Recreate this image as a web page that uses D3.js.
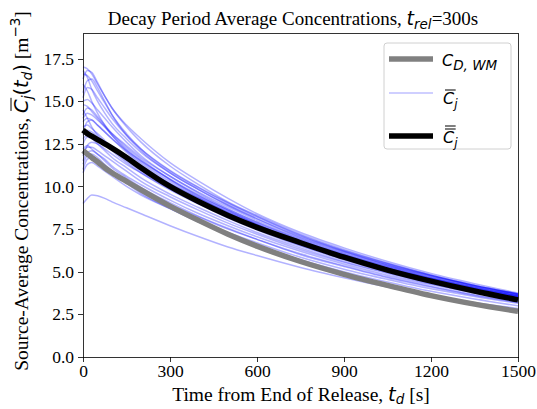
<!DOCTYPE html>
<meta charset="utf-8">
<style>
    body { margin: 0; background: #fff; }
    .axis line { stroke: #000; stroke-width: 0.8px; shape-rendering: crispEdges; }
    .serif { font-family: "Liberation Serif", "Times New Roman", serif; }
    .math { font-family: "DejaVu Sans", sans-serif; font-style: italic; }
</style>
<svg width="537" height="409"></svg>
<script src="https://d3js.org/d3.v7.min.js"></script>
<script>
    // time samples [s]
    var times = [0, 15, 30, 50, 75, 100, 150, 200, 300, 400, 500, 600, 750, 900, 1050, 1200, 1350, 1500];

    // well-mixed decay model C_D,WM
    var wellMixed = [12.1, 11.9, 11.7, 11.45, 11.1, 10.8, 10.3, 9.8, 8.85, 8.0, 7.2, 6.5, 5.6, 4.85, 4.2, 3.6, 3.1, 2.68];

    // mean of all sources
    var sourceMean = [13.3, 13.1, 12.95, 12.75, 12.5, 12.25, 11.7, 11.1, 10.0, 9.1, 8.3, 7.6, 6.7, 5.85, 5.1, 4.45, 3.87, 3.35];

    // individual source averages
    var sources = [
        [17.0, 16.9, 16.6, 16.0, 15.3, 14.6, 13.6, 12.8, 11.4, 10.3, 9.3, 8.4, 7.3, 6.4, 5.6, 4.9, 4.3, 3.75],
        [16.3, 16.8, 16.7, 16.1, 15.3, 14.6, 13.5, 12.6, 11.2, 10.1, 9.1, 8.3, 7.2, 6.3, 5.5, 4.8, 4.2, 3.7],
        [16.6, 16.5, 16.2, 15.6, 14.9, 14.2, 13.1, 12.2, 10.9, 9.9, 9.0, 8.2, 7.1, 6.2, 5.45, 4.8, 4.2, 3.7],
        [15.5, 16.2, 16.3, 15.8, 15.0, 14.2, 13.0, 12.1, 10.8, 9.8, 8.9, 8.1, 7.0, 6.15, 5.4, 4.75, 4.15, 3.65],
        [15.0, 15.1, 14.9, 14.5, 14.0, 13.5, 12.6, 11.8, 10.6, 9.6, 8.7, 7.9, 6.9, 6.05, 5.3, 4.65, 4.1, 3.6],
        [14.8, 14.7, 14.4, 14.0, 13.5, 13.0, 12.2, 11.5, 10.4, 9.4, 8.6, 7.8, 6.8, 6.0, 5.25, 4.6, 4.05, 3.6],
        [14.2, 14.6, 14.5, 14.1, 13.6, 13.1, 12.3, 11.6, 10.4, 9.45, 8.6, 7.8, 6.8, 5.95, 5.2, 4.6, 4.05, 3.55],
        [13.8, 14.0, 13.9, 13.6, 13.2, 12.8, 12.0, 11.3, 10.2, 9.3, 8.45, 7.7, 6.7, 5.9, 5.15, 4.55, 4.0, 3.55],
        [13.5, 13.6, 13.4, 13.1, 12.7, 12.3, 11.6, 11.0, 9.95, 9.1, 8.3, 7.55, 6.6, 5.8, 5.1, 4.5, 3.95, 3.5],
        [13.0, 13.3, 13.2, 12.9, 12.5, 12.1, 11.4, 10.8, 9.8, 8.95, 8.15, 7.45, 6.5, 5.7, 5.0, 4.4, 3.9, 3.45],
        [12.5, 12.9, 12.8, 12.5, 12.1, 11.7, 11.1, 10.5, 9.55, 8.75, 8.0, 7.3, 6.4, 5.6, 4.95, 4.35, 3.85, 3.4],
        [12.0, 12.3, 12.3, 12.1, 11.8, 11.5, 10.9, 10.3, 9.4, 8.6, 7.85, 7.2, 6.3, 5.55, 4.9, 4.3, 3.8, 3.35],
        [11.5, 12.0, 12.1, 11.9, 11.6, 11.2, 10.6, 10.1, 9.2, 8.4, 7.7, 7.05, 6.2, 5.45, 4.8, 4.25, 3.75, 3.3],
        [11.0, 11.6, 11.7, 11.5, 11.2, 10.9, 10.3, 9.8, 8.95, 8.2, 7.5, 6.9, 6.05, 5.35, 4.7, 4.15, 3.65, 3.25],
        [10.8, 11.3, 11.4, 11.2, 10.9, 10.6, 10.0, 9.5, 8.7, 7.95, 7.3, 6.7, 5.85, 5.15, 4.55, 4.0, 3.55, 3.15],
        [9.0, 9.3, 9.5, 9.45, 9.3, 9.1, 8.75, 8.4, 7.7, 7.05, 6.45, 5.95, 5.25, 4.65, 4.1, 3.6, 3.2, 2.85],
        [16.0, 15.6, 15.0, 14.3, 13.6, 13.0, 12.1, 11.4, 10.3, 9.35, 8.5, 7.75, 6.75, 5.9, 5.2, 4.55, 4.0, 3.55],
        [14.5, 14.0, 13.5, 13.0, 12.6, 12.2, 11.5, 10.9, 9.9, 9.0, 8.2, 7.5, 6.55, 5.75, 5.05, 4.45, 3.9, 3.45],
        [12.2, 12.4, 12.2, 11.9, 11.5, 11.1, 10.5, 9.95, 9.05, 8.25, 7.55, 6.9, 6.0, 5.3, 4.65, 4.1, 3.6, 3.2],
        [11.3, 11.8, 11.9, 11.7, 11.3, 10.9, 10.2, 9.6, 8.7, 7.9, 7.2, 6.55, 5.7, 5.0, 4.4, 3.85, 3.4, 3.0],
        [15.2, 15.8, 15.7, 15.2, 14.6, 14.0, 13.0, 12.2, 10.95, 9.95, 9.05, 8.25, 7.15, 6.25, 5.5, 4.8, 4.2, 3.7],
        [14.0, 14.3, 14.2, 13.9, 13.5, 13.1, 12.4, 11.7, 10.6, 9.65, 8.8, 8.0, 6.95, 6.1, 5.35, 4.7, 4.15, 3.65],
        [13.2, 13.8, 13.9, 13.6, 13.2, 12.8, 12.1, 11.5, 10.45, 9.5, 8.65, 7.9, 6.85, 6.0, 5.3, 4.65, 4.1, 3.6],
        [12.8, 13.0, 13.0, 12.8, 12.5, 12.2, 11.6, 11.1, 10.15, 9.3, 8.5, 7.75, 6.75, 5.95, 5.2, 4.6, 4.05, 3.55],
        [16.8, 16.4, 15.7, 15.0, 14.3, 13.7, 12.8, 12.0, 10.8, 9.8, 8.9, 8.1, 7.05, 6.2, 5.4, 4.75, 4.2, 3.7],
        [11.8, 12.4, 12.6, 12.5, 12.2, 11.9, 11.3, 10.8, 9.85, 9.0, 8.25, 7.55, 6.6, 5.8, 5.1, 4.5, 3.95, 3.5]
    ];

    var xTicks = [0, 300, 600, 900, 1200, 1500];
    var yTicks = [0, 2.5, 5, 7.5, 10, 12.5, 15, 17.5];

    var svg = d3.select("svg"),
        margin = {top: 33, right: 19, bottom: 52, left: 83},
        width = +svg.attr("width") - margin.left - margin.right,
        height = +svg.attr("height") - margin.top - margin.bottom;

    var x = d3.scaleLinear().domain([0, 1500]).range([0, width]);
    var y = d3.scaleLinear().domain([0, 19]).range([height, 0]);

    var g = svg.append("g")
        .attr("transform", "translate(" + margin.left + "," + margin.top + ")");

    var line = d3.line()
        .x(function(d, i) { return x(times[i]); })
        .y(function(d) { return y(d); })
        .curve(d3.curveMonotoneX);

    var plot = g.append("g");

    plot.selectAll(".src")
        .data(sources)
        .enter().append("path")
        .attr("class", "src")
        .attr("d", function(d) { return line(d); })
        .attr("fill", "none")
        .attr("stroke", "#0000ff")
        .attr("stroke-opacity", 0.3)
        .attr("stroke-width", 1.5);

    plot.append("path")
        .attr("d", line(wellMixed))
        .attr("fill", "none")
        .attr("stroke", "#808080")
        .attr("stroke-width", 5.5);

    plot.append("path")
        .attr("d", line(sourceMean))
        .attr("fill", "none")
        .attr("stroke", "#000")
        .attr("stroke-width", 5.5);

    // axes
    var xa = g.append("g")
        .attr("class", "axis")
        .attr("transform", "translate(0," + height + ")")
        .call(d3.axisBottom(x).tickValues(xTicks).tickSize(5).tickPadding(3).tickFormat(d3.format("d")));

    var ya = g.append("g")
        .attr("class", "axis")
        .call(d3.axisLeft(y).tickValues(yTicks).tickSize(5).tickPadding(4).tickFormat(d3.format(".1f")));

    [xa, ya].forEach(function(a) {
        a.attr("font-family", null).attr("font-size", null);
        a.select(".domain").remove();
        a.selectAll("text")
            .attr("font-family", "Liberation Serif")
            .attr("font-size", 17.5)
            .attr("fill", "#000");
    });

    g.append("rect")
        .attr("width", width).attr("height", height)
        .attr("fill", "none").attr("stroke", "#000").attr("stroke-width", 0.8)
        .attr("shape-rendering", "crispEdges");

    // put bars over a char of a text element
    function overbar(parent, textEl, idx, offsets) {
        var s = textEl.getStartPositionOfChar(idx), e = textEl.getEndPositionOfChar(idx);
        offsets.forEach(function(o) {
            parent.append("line")
                .attr("x1", s.x + 2).attr("x2", e.x + 1.5)
                .attr("y1", s.y - o).attr("y2", s.y - o)
                .attr("stroke", "#000").attr("stroke-width", 1);
        });
    }

    // title
    var title = svg.append("text")
        .attr("x", 293).attr("y", 25)
        .attr("text-anchor", "middle")
        .style("font-size", "19px");
    title.append("tspan").attr("class", "serif").text("Decay Period Average Concentrations, ");
    title.append("tspan").attr("class", "math").text("t");
    title.append("tspan").attr("class", "math").attr("dy", 4).style("font-size", "13.5px").text("rel");
    title.append("tspan").attr("class", "serif").attr("dy", -4).text("=300s");

    // x label
    var xl = svg.append("text")
        .attr("x", 301).attr("y", 401)
        .attr("text-anchor", "middle")
        .style("font-size", "19.5px");
    xl.append("tspan").attr("class", "serif").text("Time from End of Release, ");
    xl.append("tspan").attr("class", "math").text("t");
    xl.append("tspan").attr("class", "math").attr("dy", 3).style("font-size", "13.5px").text("d");
    xl.append("tspan").attr("class", "serif").attr("dy", -3).text(" [s]");

    // y label
    var ylg = svg.append("g").attr("transform", "translate(28,191) rotate(-90)");
    var yl = ylg.append("text")
        .attr("x", 0).attr("y", 0)
        .attr("text-anchor", "middle")
        .style("font-size", "19.5px");
    var yPre = "Source-Average Concentrations, ";
    yl.append("tspan").attr("class", "serif").text(yPre);
    yl.append("tspan").attr("class", "math").text("C");
    yl.append("tspan").attr("class", "math").attr("dy", 4).style("font-size", "13.5px").text("j");
    yl.append("tspan").attr("class", "math").attr("dy", -4).style("font-style", "normal").text("(");
    yl.append("tspan").attr("class", "math").text("t");
    yl.append("tspan").attr("class", "math").attr("dy", 4).style("font-size", "13.5px").text("d");
    yl.append("tspan").attr("class", "math").attr("dy", -4).style("font-style", "normal").text(")");
    yl.append("tspan").attr("class", "serif").text(" [m");
    yl.append("tspan").attr("class", "math").attr("dy", -8).style("font-size", "13.5px").style("font-style", "normal").text("\u22123");
    yl.append("tspan").attr("class", "serif").attr("dy", 8).text("]");
    overbar(ylg, yl.node(), yPre.length, [17]);

    // legend
    var lg = svg.append("g");
    lg.append("rect")
        .attr("x", 384).attr("y", 43).attr("width", 127).attr("height", 106)
        .attr("rx", 3)
        .attr("fill", "#fff").attr("fill-opacity", 0.8)
        .attr("stroke", "#d0d0d0").attr("stroke-width", 1);

    var items = [
        {y: 59, stroke: "#808080", w: 5.5, op: 1},
        {y: 93, stroke: "#0000ff", w: 1.5, op: 0.25},
        {y: 136, stroke: "#000", w: 5.5, op: 1}
    ];
    lg.selectAll(".lgl").data(items).enter().append("line")
        .attr("class", "lgl")
        .attr("x1", 389).attr("x2", 433)
        .attr("y1", function(d) { return d.y; }).attr("y2", function(d) { return d.y; })
        .attr("stroke", function(d) { return d.stroke; })
        .attr("stroke-opacity", function(d) { return d.op; })
        .attr("stroke-width", function(d) { return d.w; });

    var t1 = lg.append("text").attr("x", 442).attr("y", 66).style("font-size", "16px");
    t1.append("tspan").attr("class", "math").text("C");
    t1.append("tspan").attr("class", "math").attr("dy", 4).style("font-size", "13.5px").text("D, WM");

    var t2 = lg.append("text").attr("x", 443).attr("y", 104).style("font-size", "16px");
    t2.append("tspan").attr("class", "math").text("C");
    t2.append("tspan").attr("class", "math").attr("dy", 4).style("font-size", "12px").text("j");
    overbar(lg, t2.node(), 0, [14]);

    var t3 = lg.append("text").attr("x", 443).attr("y", 143).style("font-size", "16px");
    t3.append("tspan").attr("class", "math").text("C");
    t3.append("tspan").attr("class", "math").attr("dy", 4).style("font-size", "12px").text("j");
    overbar(lg, t3.node(), 0, [14, 17]);
</script>
